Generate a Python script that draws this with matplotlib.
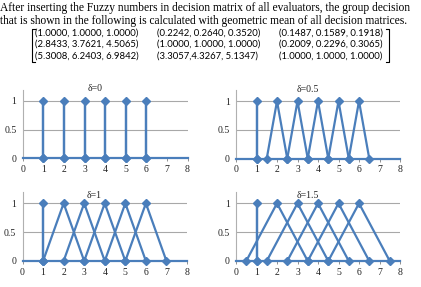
import matplotlib
matplotlib.use("Agg")
import matplotlib.pyplot as plt
from matplotlib.lines import Line2D

# ---------------------------------------------------------
# Data
# ---------------------------------------------------------
intro_line1 = "After inserting the Fuzzy numbers in decision matrix of all evaluators, the group decision"
intro_line2 = "that is shown in the following is calculated with geometric mean of all decision matrices."

matrix_rows = [
    ["(1.0000, 1.0000, 1.0000)", "(0.2242, 0.2640, 0.3520)", "(0.1487, 0.1589, 0.1918)"],
    ["(2.8433, 3.7621, 4.5065)", "(1.0000, 1.0000, 1.0000)", "(0.2009, 0.2296, 0.3065)"],
    ["(5.3008, 6.2403, 6.9842)", "(3.3057,4.3267, 5.1347)", "(1.0000, 1.0000, 1.0000)"],
]

panel_titles = ["\u03b4=0", "\u03b4=0.5", "\u03b4=1", "\u03b4=1.5"]

# triangular fuzzy numbers (l, m, u) for each panel
tfn_d0 = [(1, 1, 1), (2, 2, 2), (3, 3, 3), (4, 4, 4), (5, 5, 5), (6, 6, 6)]
tfn_d05 = [(1, 1, 1), (1.5, 2, 2.5), (2.5, 3, 3.5), (3.5, 4, 4.5), (4.5, 5, 5.5), (5.5, 6, 6.5)]
tfn_d1 = [(1, 1, 1), (1, 2, 3), (2, 3, 4), (3, 4, 5), (4, 5, 6), (5, 6, 7)]
tfn_d15 = [(1, 1, 1), (0.5, 2, 3.5), (1.5, 3, 4.5), (2.5, 4, 5.5), (3.5, 5, 6.5), (4.5, 6, 7.5)]
panel_data = [tfn_d0, tfn_d05, tfn_d1, tfn_d15]

x_ticks = [0, 1, 2, 3, 4, 5, 6, 7, 8]
y_ticks = [0, 0.5, 1]
y_ticklabels = ["0", "0.5", "1"]

# ---------------------------------------------------------
# Figure
# ---------------------------------------------------------
W, H = 421, 287
fig = plt.figure(figsize=(W / 100, H / 100), dpi=100)
fig.patch.set_facecolor("white")
renderer = fig.canvas.get_renderer()

serif = "Liberation Serif"
blue = "#4a7ebb"


def fx(px):
    return px / W


def fy(py):
    return 1 - py / H


def fit_size(text, family, target_px, start=8.0):
    # scale font size so that the text is target_px wide
    t = fig.text(0, 0, text, family=family, fontsize=start)
    w = t.get_window_extent(renderer).width
    t.remove()
    return start * target_px / w


# intro text
body_size = fit_size(intro_line1, serif, 413)
fig.text(fx(0.5), fy(8), intro_line1, family=serif, fontsize=body_size, va="center", ha="left")
fig.text(fx(0.5), fy(21), intro_line2, family=serif, fontsize=body_size, va="center", ha="left")

# matrix
cell_size = fit_size(matrix_rows[0][0], "Lato", 105)
col_x = [35, 157, 279]
row_y = [33, 44.5, 56]
for r, row in enumerate(matrix_rows):
    for c, cell in enumerate(row):
        fig.text(fx(col_x[c]), fy(row_y[r]), cell, family="Lato", fontsize=cell_size,
                 va="center", ha="left")

# brackets
for xb, dx in [(32, 3), (389, -3)]:
    fig.add_artist(Line2D([fx(xb + dx), fx(xb), fx(xb), fx(xb + dx)],
                          [fy(28.5), fy(28.5), fy(62), fy(62)],
                          transform=fig.transFigure, color="black", lw=0.8))

# ---------------------------------------------------------
# Panels
# ---------------------------------------------------------
# left, right, y of 0, y of 1.2 (pixels)
boxes = [
    (22.7, 187.5, 158.3, 89.5),
    (236, 400, 158.5, 89.7),
    (22.5, 187, 261, 191.8),
    (236, 400, 261, 191.8),
]
title_y = [1.22, 1.21, 1.13, 1.14]

for i, (l, r, b, t) in enumerate(boxes):
    ax = fig.add_axes([fx(l), fy(b), (r - l) / W, (b - t) / H])
    for lo, mid, up in panel_data[i]:
        ax.plot([lo, mid, up], [0, 1, 0], color=blue, lw=1.6, marker="D",
                ms=3.6, clip_on=False, zorder=3)
    ax.set_xlim(0, 8)
    ax.set_ylim(0, 1.2)
    ax.set_xticks(x_ticks)
    ax.set_yticks(y_ticks)
    ax.set_yticklabels(y_ticklabels)
    for s in ["top", "right"]:
        ax.spines[s].set_visible(False)
    ax.spines["left"].set_color("#b0b0b0")
    ax.spines["left"].set_linewidth(0.8)
    ax.spines["bottom"].set_color(blue)
    ax.spines["bottom"].set_linewidth(1.6)
    ax.grid(axis="y", color="#a8a8a8", lw=0.8)
    ax.set_axisbelow(True)
    ax.tick_params(axis="y", length=0, pad=4.5, labelsize=7, labelcolor="#222222")
    ax.tick_params(axis="x", length=2.2, width=0.7, color="#909090", pad=2.5,
                   labelsize=7, labelcolor="#222222")
    for lab in ax.get_xticklabels() + ax.get_yticklabels():
        lab.set_family(serif)
    ax.text(3.5, title_y[i], panel_titles[i], family=serif, fontsize=7,
            ha="center", va="center", color="#222222")

fig.savefig("out.png", dpi=100)
